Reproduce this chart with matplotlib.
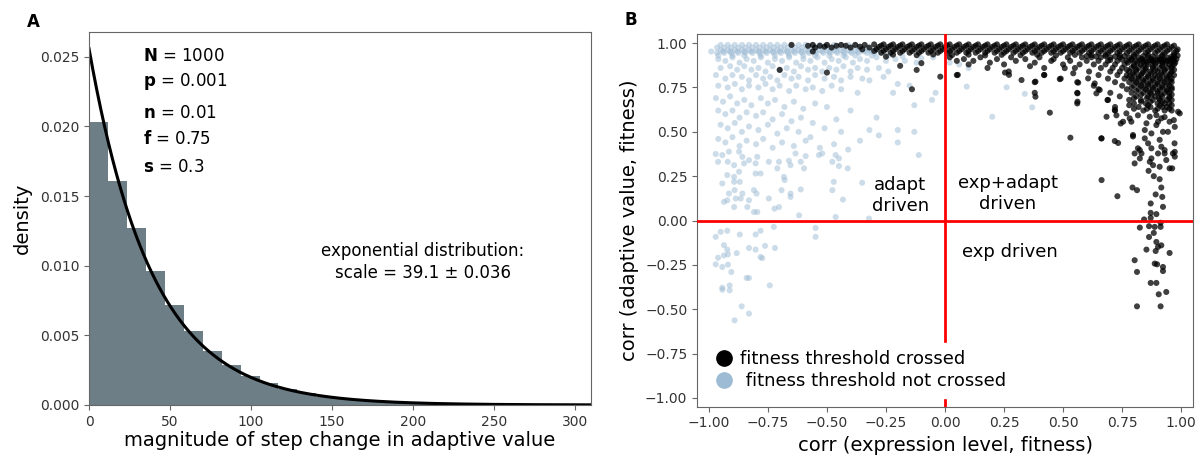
import matplotlib
matplotlib.use('Agg')
import matplotlib.pyplot as plt
from matplotlib.lines import Line2D
import numpy as np

# ---- panel A: histogram of step changes + exponential fit ----
bin_width = 11.7
hist_density = [0.0203, 0.0161, 0.0127, 0.0096, 0.0072, 0.0053, 0.0039, 0.00287,
                0.00208, 0.00160, 0.00113, 0.00084, 0.00060, 0.00044, 0.00033,
                0.00024, 0.00018, 0.00013, 0.00010, 0.00007, 0.00005, 0.00004,
                0.00003, 0.00002, 0.000015, 0.00001, 0.00001, 0.00001]
fit_scale = 39.1
params = [('N', '1000'), ('p', '0.001'), ('n', '0.01'), ('f', '0.75'), ('s', '0.3')]
param_y = [0.935, 0.866, 0.783, 0.712, 0.638]

# ---- panel B: corr(expression, fitness) vs corr(adaptive value, fitness) ----
# fitness threshold crossed (black)
crossed_band = [
    (-0.58, 0.985), (-0.56, 0.99), (-0.55, 0.975), (-0.53, 0.985), (-0.51, 0.98), (-0.50, 0.99),
    (-0.48, 0.975), (-0.46, 0.985), (-0.44, 0.99), (-0.42, 0.985), (-0.40, 0.975), (-0.38, 0.99),
    (-0.36, 0.98), (-0.35, 0.965), (-0.34, 0.99), (-0.32, 0.975), (-0.65, 0.99),
    (-0.30, 0.993), (-0.26, 0.993), (-0.22, 0.993), (-0.18, 0.993), (-0.14, 0.993), (-0.10, 0.993),
    (-0.06, 0.993), (-0.02, 0.993), (0.02, 0.993), (0.06, 0.993), (0.10, 0.993), (0.14, 0.993),
    (0.18, 0.993), (0.22, 0.993), (0.26, 0.993), (0.30, 0.993), (0.34, 0.993), (0.38, 0.993),
    (0.42, 0.993), (0.46, 0.993), (0.50, 0.993), (0.54, 0.993), (0.58, 0.993), (0.62, 0.993),
    (0.66, 0.993), (0.70, 0.993), (0.74, 0.993), (0.78, 0.993), (0.82, 0.993), (0.86, 0.993),
    (0.90, 0.993), (0.94, 0.993),
    (-0.27, 0.986), (-0.23, 0.986), (-0.19, 0.986), (-0.15, 0.986), (-0.11, 0.986), (-0.07, 0.986),
    (-0.03, 0.986), (0.01, 0.986), (0.05, 0.986), (0.09, 0.986), (0.13, 0.986), (0.17, 0.986),
    (0.21, 0.986), (0.25, 0.986), (0.29, 0.986), (0.33, 0.986), (0.37, 0.986), (0.41, 0.986),
    (0.45, 0.986), (0.49, 0.986), (0.53, 0.986), (0.57, 0.986), (0.61, 0.986), (0.65, 0.986),
    (0.69, 0.986), (0.73, 0.986), (0.77, 0.986), (0.81, 0.986), (0.85, 0.986), (0.89, 0.986),
    (0.93, 0.986), (0.97, 0.986),
    (-0.28, 0.978), (-0.24, 0.978), (-0.20, 0.978), (-0.16, 0.978), (-0.12, 0.978), (-0.08, 0.978),
    (-0.04, 0.978), (0.00, 0.978), (0.04, 0.978), (0.08, 0.978), (0.12, 0.978), (0.16, 0.978),
    (0.20, 0.978), (0.24, 0.978), (0.28, 0.978), (0.32, 0.978), (0.36, 0.978), (0.40, 0.978),
    (0.44, 0.978), (0.48, 0.978), (0.52, 0.978), (0.56, 0.978), (0.60, 0.978), (0.64, 0.978),
    (0.68, 0.978), (0.72, 0.978), (0.76, 0.978), (0.80, 0.978), (0.84, 0.978), (0.88, 0.978),
    (0.92, 0.978), (0.96, 0.978),
    (-0.29, 0.966), (-0.25, 0.966), (-0.21, 0.966), (-0.17, 0.966), (-0.13, 0.966), (-0.09, 0.966),
    (-0.05, 0.966), (-0.01, 0.966), (0.03, 0.966), (0.07, 0.966), (0.11, 0.966), (0.15, 0.966),
    (0.19, 0.966), (0.23, 0.966), (0.27, 0.966), (0.31, 0.966), (0.35, 0.966), (0.39, 0.966),
    (0.43, 0.966), (0.47, 0.966), (0.51, 0.966), (0.55, 0.966), (0.59, 0.966), (0.63, 0.966),
    (0.67, 0.966), (0.71, 0.966), (0.75, 0.966), (0.79, 0.966), (0.83, 0.966), (0.87, 0.966),
    (0.91, 0.966), (0.95, 0.966), (0.985, 0.965),
    (-0.30, 0.956), (-0.26, 0.956), (-0.22, 0.956), (-0.18, 0.956), (-0.14, 0.956), (-0.10, 0.956),
    (-0.06, 0.956), (-0.02, 0.956), (0.02, 0.956), (0.06, 0.956), (0.10, 0.956), (0.14, 0.956),
    (0.18, 0.956), (0.22, 0.956), (0.26, 0.956), (0.30, 0.956), (0.34, 0.956), (0.38, 0.956),
    (0.42, 0.956), (0.46, 0.956), (0.50, 0.956), (0.54, 0.956), (0.58, 0.956), (0.62, 0.956),
    (0.66, 0.956), (0.70, 0.956), (0.74, 0.956), (0.78, 0.956), (0.82, 0.956), (0.86, 0.956),
    (0.90, 0.956), (0.94, 0.956), (0.98, 0.956),
    (-0.27, 0.946), (-0.23, 0.946), (-0.19, 0.946), (-0.15, 0.946), (-0.11, 0.946), (-0.07, 0.946),
    (-0.03, 0.946), (0.01, 0.946), (0.05, 0.946), (0.09, 0.946), (0.13, 0.946), (0.17, 0.946),
    (0.21, 0.946), (0.25, 0.946), (0.29, 0.946), (0.33, 0.946), (0.37, 0.946), (0.41, 0.946),
    (0.45, 0.946), (0.49, 0.946), (0.53, 0.946), (0.57, 0.946), (0.61, 0.946), (0.65, 0.946),
    (0.69, 0.946), (0.73, 0.946), (0.77, 0.946), (0.81, 0.946), (0.85, 0.946), (0.89, 0.946),
    (0.93, 0.946), (0.97, 0.946),
    (-0.22, 0.935), (-0.12, 0.932), (-0.05, 0.936), (0.03, 0.933), (0.10, 0.935), (0.17, 0.931),
    (0.24, 0.934), (0.32, 0.932), (0.39, 0.935), (0.47, 0.931), (0.55, 0.934), (0.62, 0.933),
    (0.68, 0.935), (0.74, 0.932), (0.80, 0.935), (0.86, 0.933), (0.92, 0.934), (0.97, 0.932),
]
crossed_block = [
    (0.02, 0.92), (0.08, 0.91), (0.15, 0.92), (0.22, 0.91), (0.28, 0.92), (0.34, 0.91), (0.40, 0.92),
    (0.46, 0.91), (0.52, 0.92), (0.58, 0.92), (0.62, 0.92), (0.66, 0.92), (0.70, 0.92), (0.74, 0.92),
    (0.78, 0.92), (0.82, 0.92), (0.86, 0.92), (0.90, 0.92), (0.94, 0.92), (0.97, 0.92),
    (0.05, 0.90), (0.12, 0.90), (0.19, 0.89), (0.30, 0.90), (0.38, 0.89), (0.45, 0.90), (0.53, 0.90),
    (0.60, 0.90), (0.65, 0.90), (0.69, 0.90), (0.73, 0.90), (0.77, 0.90), (0.81, 0.90), (0.85, 0.90),
    (0.88, 0.90), (0.91, 0.90), (0.94, 0.90), (0.97, 0.90),
    (0.10, 0.88), (0.25, 0.88), (0.36, 0.87), (0.50, 0.88), (0.57, 0.88), (0.63, 0.88), (0.68, 0.88),
    (0.72, 0.88), (0.76, 0.88), (0.80, 0.88), (0.83, 0.88), (0.86, 0.88), (0.89, 0.88), (0.92, 0.88),
    (0.95, 0.88), (0.97, 0.88),
    (0.18, 0.86), (0.42, 0.86), (0.55, 0.86), (0.66, 0.86), (0.71, 0.86), (0.75, 0.86), (0.79, 0.86),
    (0.82, 0.86), (0.85, 0.86), (0.88, 0.86), (0.91, 0.86), (0.94, 0.86), (0.96, 0.86),
    (0.27, 0.84), (0.61, 0.84), (0.70, 0.84), (0.74, 0.84), (0.78, 0.84), (0.81, 0.84), (0.84, 0.84),
    (0.87, 0.84), (0.90, 0.84), (0.93, 0.84), (0.96, 0.84),
    (0.05, 0.82), (0.42, 0.82), (0.65, 0.82), (0.73, 0.82), (0.77, 0.82), (0.80, 0.82), (0.83, 0.82),
    (0.86, 0.82), (0.89, 0.82), (0.92, 0.82), (0.95, 0.82), (0.97, 0.82),
    (0.49, 0.80), (0.69, 0.80), (0.76, 0.80), (0.79, 0.80), (0.82, 0.80), (0.85, 0.80), (0.88, 0.80),
    (0.91, 0.80), (0.94, 0.80), (0.96, 0.80),
    (0.38, 0.78), (0.56, 0.78), (0.72, 0.78), (0.78, 0.78), (0.81, 0.78), (0.84, 0.78), (0.87, 0.78),
    (0.90, 0.78), (0.93, 0.78), (0.96, 0.78),
    (0.63, 0.76), (0.75, 0.76), (0.80, 0.76), (0.83, 0.76), (0.86, 0.76), (0.89, 0.76), (0.92, 0.76),
    (0.95, 0.76),
    (0.65, 0.74), (0.77, 0.74), (0.82, 0.74), (0.85, 0.74), (0.88, 0.74), (0.91, 0.74), (0.94, 0.74),
    (0.96, 0.74),
    (0.38, 0.72), (0.56, 0.72), (0.70, 0.72), (0.79, 0.72), (0.84, 0.72), (0.87, 0.72), (0.90, 0.72),
    (0.93, 0.72), (0.95, 0.72),
    (0.74, 0.70), (0.81, 0.70), (0.86, 0.70), (0.89, 0.70), (0.92, 0.70), (0.95, 0.70),
    (0.69, 0.68), (0.78, 0.68), (0.83, 0.68), (0.88, 0.68), (0.91, 0.68), (0.94, 0.68), (0.96, 0.68),
    (0.56, 0.66), (0.80, 0.66), (0.85, 0.66), (0.90, 0.66), (0.93, 0.66), (0.95, 0.66),
    (0.72, 0.64), (0.82, 0.64), (0.87, 0.64), (0.92, 0.64), (0.94, 0.64),
    (0.72, 0.62), (0.84, 0.62), (0.89, 0.62), (0.93, 0.62), (0.96, 0.62),
]
crossed_block_top = [
    (0.60, 0.927), (0.64, 0.925), (0.68, 0.927), (0.72, 0.925), (0.76, 0.927), (0.80, 0.925),
    (0.84, 0.927), (0.88, 0.925), (0.92, 0.927), (0.96, 0.925), (0.985, 0.93),
    (0.70, 0.905), (0.75, 0.907), (0.79, 0.905), (0.83, 0.907), (0.87, 0.905), (0.90, 0.907),
    (0.93, 0.905), (0.96, 0.907), (0.98, 0.91),
    (0.84, 0.895), (0.88, 0.897), (0.92, 0.895), (0.955, 0.897),
]
crossed_block_core = [
    (0.79, 0.91), (0.835, 0.91), (0.875, 0.91), (0.915, 0.91), (0.955, 0.91),
    (0.775, 0.89), (0.815, 0.89), (0.855, 0.89), (0.895, 0.89), (0.935, 0.89), (0.975, 0.89),
    (0.80, 0.87), (0.84, 0.87), (0.88, 0.87), (0.92, 0.87), (0.96, 0.87),
    (0.77, 0.85), (0.81, 0.85), (0.85, 0.85), (0.89, 0.85), (0.93, 0.85), (0.97, 0.85),
    (0.795, 0.83), (0.835, 0.83), (0.875, 0.83), (0.915, 0.83), (0.955, 0.83),
    (0.78, 0.81), (0.82, 0.81), (0.86, 0.81), (0.90, 0.81), (0.94, 0.81),
    (0.80, 0.79), (0.84, 0.79), (0.88, 0.79), (0.92, 0.79), (0.955, 0.79),
    (0.82, 0.77), (0.86, 0.77), (0.90, 0.77), (0.94, 0.77),
    (0.79, 0.75), (0.84, 0.75), (0.88, 0.75), (0.92, 0.75), (0.96, 0.75),
    (0.81, 0.73), (0.86, 0.73), (0.90, 0.73), (0.94, 0.73),
    (0.83, 0.71), (0.875, 0.71), (0.915, 0.71), (0.96, 0.71),
    (0.80, 0.69), (0.855, 0.69), (0.905, 0.69), (0.95, 0.69),
    (0.83, 0.67), (0.87, 0.67), (0.92, 0.67),
    (0.78, 0.65), (0.86, 0.65), (0.91, 0.65), (0.96, 0.65),
    (0.80, 0.63), (0.855, 0.63), (0.90, 0.63), (0.95, 0.63),
]
crossed_scatter = [
    (-0.70, 0.849), (-0.50, 0.834), (-0.56, 0.953), (-0.19, 0.872), (-0.14, 0.740), (-0.10, 0.887),
    (-0.12, 0.849), (-0.02, 0.811), (-0.25, 0.924), (0.054, 0.821), (0.383, 0.698), (0.444, 0.608),
    (0.383, 0.783), (0.324, 0.792), (0.254, 0.834), (0.271, 0.821), (0.42, 0.821), (0.486, 0.797),
    (0.507, 0.859), (0.543, 0.830), (0.564, 0.777), (0.561, 0.717), (0.561, 0.670), (0.606, 0.801),
    (0.634, 0.773), (0.641, 0.717), (0.655, 0.736), (0.688, 0.679), (0.684, 0.585), (0.719, 0.623),
    (0.744, 0.547),
    (0.663, 0.463), (0.719, 0.448), (0.733, 0.437), (0.803, 0.378), (0.832, 0.378),
    (0.825, 0.350), (0.803, 0.322), (0.867, 0.331), (0.881, 0.312), (0.909, 0.303), (0.862, 0.280),
    (0.884, 0.250), (0.951, 0.294), (0.962, 0.294), (0.937, 0.341), (0.930, 0.378), (0.965, 0.378),
    (0.916, 0.416), (0.860, 0.435), (0.825, 0.397), (0.846, 0.463), (0.796, 0.482), (0.874, 0.491),
    (0.944, 0.500), (0.972, 0.435), (0.909, 0.455), (0.895, 0.538), (0.951, 0.557), (0.969, 0.566),
    (0.782, 0.576), (0.853, 0.548), (0.768, 0.604), (0.817, 0.593), (0.895, 0.594), (0.930, 0.583),
    (0.994, 0.604), (0.726, 0.593), (0.867, 0.585), (0.916, 0.576), (0.754, 0.557),
    (0.531, 0.467), (0.662, 0.463), (0.789, 0.557), (0.846, 0.510), (0.902, 0.557), (0.923, 0.500),
    (0.973, 0.528), (0.987, 0.613), (0.796, 0.474), (0.817, 0.407), (0.874, 0.407), (0.930, 0.397),
    (0.973, 0.387), (0.902, 0.378), (0.973, 0.360), (0.874, 0.350),
    (0.663, 0.228), (0.794, 0.186), (0.813, 0.171), (0.730, 0.137), (0.909, 0.233), (0.916, 0.186),
    (0.892, 0.147), (0.920, 0.133), (0.871, 0.096), (0.923, 0.077), (0.871, 0.043), (0.895, 0.036),
    (0.843, 0.006), (0.871, 0.015), (0.825, -0.040), (0.864, -0.032), (0.888, -0.036), (0.913, -0.013),
    (0.913, -0.036), (0.884, -0.070), (0.864, -0.093), (0.895, -0.121), (0.916, -0.140), (0.902, -0.149),
    (0.853, -0.164), (0.892, -0.172), (0.951, -0.183), (0.803, -0.224), (0.888, -0.243), (0.898, -0.247),
    (0.923, -0.262), (0.923, -0.285), (0.813, -0.290), (0.871, -0.352), (0.895, -0.352), (0.905, -0.416),
    (0.937, -0.403), (0.813, -0.484), (0.913, -0.484),
]

# fitness threshold not crossed (light blue)
notcrossed_band = [
    (-0.99, 0.953),
    (-0.95, 0.99), (-0.92, 0.99), (-0.89, 0.99), (-0.86, 0.99), (-0.83, 0.99), (-0.80, 0.99),
    (-0.77, 0.99), (-0.74, 0.99), (-0.71, 0.99), (-0.68, 0.99), (-0.65, 0.99), (-0.62, 0.99),
    (-0.59, 0.99), (-0.56, 0.99), (-0.53, 0.99), (-0.50, 0.99), (-0.47, 0.99), (-0.44, 0.99),
    (-0.41, 0.99), (-0.38, 0.99),
    (-0.965, 0.975), (-0.935, 0.975), (-0.905, 0.975), (-0.875, 0.975), (-0.845, 0.975),
    (-0.815, 0.975), (-0.785, 0.975), (-0.755, 0.975), (-0.725, 0.975), (-0.695, 0.975),
    (-0.665, 0.975), (-0.635, 0.975), (-0.605, 0.975), (-0.575, 0.975), (-0.545, 0.975),
    (-0.515, 0.975), (-0.485, 0.975), (-0.455, 0.975), (-0.425, 0.975), (-0.395, 0.975),
    (-0.365, 0.975), (-0.33, 0.975),
    (-0.95, 0.96), (-0.92, 0.96), (-0.89, 0.96), (-0.86, 0.96), (-0.83, 0.96), (-0.80, 0.96),
    (-0.77, 0.96), (-0.74, 0.96), (-0.71, 0.96), (-0.68, 0.96), (-0.65, 0.96), (-0.62, 0.96),
    (-0.59, 0.96), (-0.56, 0.96), (-0.53, 0.96), (-0.50, 0.96), (-0.47, 0.96), (-0.44, 0.96),
    (-0.41, 0.96), (-0.38, 0.96), (-0.35, 0.96), (-0.32, 0.96), (-0.29, 0.96),
    (-0.94, 0.953), (-0.91, 0.953), (-0.88, 0.953), (-0.85, 0.953), (-0.82, 0.953), (-0.79, 0.953),
    (-0.76, 0.953), (-0.73, 0.953), (-0.70, 0.953), (-0.67, 0.953), (-0.64, 0.953), (-0.61, 0.953),
    (-0.58, 0.953), (-0.55, 0.953), (-0.52, 0.953), (-0.49, 0.953), (-0.46, 0.953), (-0.43, 0.953),
    (-0.40, 0.953), (-0.37, 0.953), (-0.34, 0.953), (-0.31, 0.953),
    (-0.965, 0.945), (-0.935, 0.945), (-0.905, 0.945), (-0.875, 0.945), (-0.845, 0.945),
    (-0.815, 0.945), (-0.785, 0.945), (-0.755, 0.945), (-0.725, 0.945), (-0.695, 0.945),
    (-0.665, 0.945), (-0.635, 0.945), (-0.605, 0.945), (-0.575, 0.945), (-0.545, 0.945),
    (-0.515, 0.945), (-0.485, 0.945), (-0.455, 0.945), (-0.425, 0.945), (-0.395, 0.945),
    (-0.365, 0.945), (-0.33, 0.945), (-0.30, 0.945), (-0.27, 0.945),
    (-0.96, 0.93), (-0.90, 0.93), (-0.85, 0.93), (-0.78, 0.93), (-0.72, 0.93), (-0.66, 0.93),
    (-0.60, 0.93), (-0.55, 0.93), (-0.49, 0.93), (-0.43, 0.93), (-0.38, 0.93), (-0.31, 0.93),
    (-0.24, 0.93), (-0.18, 0.925), (-0.10, 0.915), (-0.05, 0.92),
]
notcrossed_cloud = [
    (-0.96, 0.91), (-0.93, 0.90), (-0.90, 0.92), (-0.87, 0.89), (-0.84, 0.91), (-0.81, 0.90),
    (-0.78, 0.92), (-0.75, 0.89), (-0.72, 0.91), (-0.69, 0.90), (-0.66, 0.92), (-0.63, 0.89),
    (-0.60, 0.91), (-0.57, 0.90), (-0.54, 0.92), (-0.51, 0.89), (-0.48, 0.91), (-0.45, 0.90),
    (-0.42, 0.92), (-0.39, 0.89), (-0.36, 0.91), (-0.33, 0.90), (-0.29, 0.92), (-0.25, 0.90),
    (-0.21, 0.91), (-0.17, 0.90), (-0.12, 0.89),
    (-0.95, 0.86), (-0.91, 0.87), (-0.88, 0.85), (-0.85, 0.87), (-0.82, 0.85), (-0.79, 0.86),
    (-0.76, 0.84), (-0.73, 0.87), (-0.70, 0.85), (-0.67, 0.86), (-0.64, 0.84), (-0.61, 0.87),
    (-0.58, 0.85), (-0.55, 0.86), (-0.52, 0.84), (-0.49, 0.86), (-0.46, 0.85), (-0.43, 0.87),
    (-0.40, 0.84), (-0.37, 0.86), (-0.33, 0.85), (-0.28, 0.86), (-0.24, 0.84),
    (-0.97, 0.82), (-0.93, 0.80), (-0.90, 0.82), (-0.86, 0.81), (-0.83, 0.79), (-0.80, 0.82),
    (-0.77, 0.80), (-0.74, 0.81), (-0.71, 0.79), (-0.68, 0.82), (-0.65, 0.80), (-0.62, 0.81),
    (-0.58, 0.79), (-0.55, 0.82), (-0.51, 0.80), (-0.47, 0.81), (-0.44, 0.79), (-0.40, 0.81),
    (-0.35, 0.80), (-0.32, 0.79), (-0.26, 0.81), (-0.20, 0.77), (-0.15, 0.76),
    (-0.96, 0.76), (-0.92, 0.75), (-0.89, 0.77), (-0.86, 0.74), (-0.83, 0.76), (-0.79, 0.75),
    (-0.76, 0.77), (-0.73, 0.74), (-0.70, 0.76), (-0.66, 0.73), (-0.63, 0.76), (-0.59, 0.74),
    (-0.56, 0.75), (-0.52, 0.73), (-0.48, 0.76), (-0.44, 0.74), (-0.37, 0.72), (-0.22, 0.72),
    (-0.04, 0.72), (-0.055, 0.68), (-0.13, 0.65), (0.02, 0.89), (0.06, 0.88), (0.10, 0.86),
    (0.092, 0.755), (0.20, 0.585), (0.261, 0.751), (0.338, 0.714), (0.369, 0.638),
    (-0.97, 0.69), (-0.94, 0.67), (-0.91, 0.70), (-0.88, 0.66), (-0.85, 0.68), (-0.82, 0.65),
    (-0.78, 0.69), (-0.75, 0.66), (-0.72, 0.68), (-0.68, 0.64), (-0.64, 0.67), (-0.60, 0.63),
    (-0.55, 0.66), (-0.50, 0.64), (-0.40, 0.62), (-0.29, 0.58),
    (-0.96, 0.62), (-0.93, 0.60), (-0.90, 0.62), (-0.87, 0.58), (-0.84, 0.61), (-0.80, 0.59),
    (-0.77, 0.61), (-0.73, 0.57), (-0.69, 0.60), (-0.65, 0.56), (-0.61, 0.58), (-0.56, 0.55),
    (-0.51, 0.52), (-0.46, 0.57),
    (-0.95, 0.54), (-0.92, 0.52), (-0.89, 0.55), (-0.86, 0.50), (-0.83, 0.53), (-0.79, 0.51),
    (-0.75, 0.54), (-0.71, 0.49), (-0.67, 0.52), (-0.62, 0.50), (-0.57, 0.47), (-0.44, 0.50),
    (-0.32, 0.51), (-0.28, 0.48), (-0.36, 0.45), (-0.20, 0.51), (-0.13, 0.50), (-0.20, 0.44),
    (-0.96, 0.46), (-0.93, 0.44), (-0.90, 0.47), (-0.87, 0.42), (-0.84, 0.45), (-0.80, 0.43),
    (-0.77, 0.46), (-0.73, 0.41), (-0.69, 0.44), (-0.64, 0.42), (-0.59, 0.45), (-0.53, 0.41),
    (-0.47, 0.43), (-0.41, 0.40),
]
notcrossed_low = [
    (-0.971, 0.375), (-0.943, 0.369), (-0.915, 0.388), (-0.872, 0.388), (-0.858, 0.359),
    (-0.830, 0.340), (-0.802, 0.322), (-0.961, 0.331), (-0.920, 0.331), (-0.893, 0.312),
    (-0.851, 0.322), (-0.795, 0.359), (-0.746, 0.331), (-0.703, 0.331), (-0.661, 0.337),
    (-0.633, 0.378), (-0.590, 0.363), (-0.611, 0.331), (-0.710, 0.294), (-0.654, 0.312),
    (-0.597, 0.294), (-0.534, 0.369), (-0.477, 0.331), (-0.463, 0.369), (-0.449, 0.350),
    (-0.449, 0.307), (-0.412, 0.294), (-0.351, 0.213), (-0.471, 0.218), (-0.477, 0.171),
    (-0.432, 0.118), (-0.520, 0.378), (-0.111, 0.369), (-0.922, 0.256), (-0.893, 0.246),
    (-0.872, 0.275), (-0.869, 0.218), (-0.893, 0.218), (-0.943, 0.209), (-0.891, 0.171),
    (-0.915, 0.152), (-0.922, 0.114), (-0.936, 0.105), (-0.886, 0.124), (-0.858, 0.152),
    (-0.865, 0.124), (-0.830, 0.114), (-0.837, 0.076), (-0.809, 0.048), (-0.795, 0.048),
    (-0.893, 0.076), (-0.809, 0.171), (-0.798, 0.152), (-0.802, 0.265), (-0.781, 0.265),
    (-0.746, 0.124), (-0.722, 0.067), (-0.703, 0.076), (-0.692, 0.171), (-0.679, 0.228),
    (-0.682, 0.246), (-0.654, 0.152), (-0.654, 0.133), (-0.611, 0.175), (-0.618, 0.029),
    (-0.463, 0.020), (-0.322, 0.011),
    (-0.971, -0.092), (-0.950, -0.064), (-0.922, -0.058), (-0.869, -0.079), (-0.802, -0.079),
    (-0.781, -0.058), (-0.725, -0.036), (-0.548, -0.042), (-0.548, -0.092), (-0.936, -0.139),
    (-0.922, -0.164), (-0.830, -0.155), (-0.802, -0.164), (-0.762, -0.143), (-0.720, -0.155),
    (-0.961, -0.210), (-0.936, -0.197), (-0.919, -0.191), (-0.882, -0.184), (-0.971, -0.247),
    (-0.943, -0.262), (-0.919, -0.249), (-0.781, -0.206), (-0.774, -0.212), (-0.905, -0.290),
    (-0.840, -0.324), (-0.830, -0.324), (-0.943, -0.379), (-0.912, -0.366), (-0.912, -0.394),
    (-0.943, -0.390), (-0.742, -0.366), (-0.861, -0.484), (-0.830, -0.525), (-0.891, -0.563),
]

quadrant_labels = [('adapt\ndriven', -0.19, 0.14), ('exp+adapt\ndriven', 0.265, 0.15),
                   ('exp driven', 0.275, -0.18)]
legend_labels = ['fitness threshold crossed', ' fitness threshold not crossed']

bar_color = '#6d7e87'
blue = '#9dbbd4'
spine_col = '#666666'

fig = plt.figure(figsize=(11.95, 4.57), dpi=100)
axA = fig.add_axes([0.0745, 0.1138, 0.4201, 0.8168])
axB = fig.add_axes([0.5833, 0.1100, 0.4150, 0.8150])

# panel A
edges = np.arange(len(hist_density) + 1) * bin_width
axA.bar(edges[:-1], hist_density, width=bin_width, align='edge', color=bar_color,
        edgecolor='none')
xs = np.linspace(0, 320, 400)
axA.plot(xs, np.exp(-xs / fit_scale) / fit_scale, color='black', lw=2.2)
axA.set_xlim(0, 310)
axA.set_ylim(0, 0.0268)
axA.set_xticks([0, 50, 100, 150, 200, 250, 300])
axA.set_yticks([0, 0.005, 0.010, 0.015, 0.020, 0.025])
axA.set_yticklabels(['0.000', '0.005', '0.010', '0.015', '0.020', '0.025'])
axA.set_xlabel('magnitude of step change in adaptive value', fontsize=14, labelpad=2)
axA.set_ylabel('density', fontsize=14, labelpad=6)
for (name, val), yy in zip(params, param_y):
    axA.text(0.108, yy, r'$\mathbf{%s}$ = %s' % (name, val), transform=axA.transAxes,
             fontsize=12, va='center', ha='left')
axA.text(0.665, 0.384, 'exponential distribution:\nscale = 39.1 \u00b1 0.036',
         transform=axA.transAxes, fontsize=12, ha='center', va='center', linespacing=1.3)

# panel B
def unzip(pts):
    return [p[0] for p in pts], [p[1] for p in pts]

nx, ny = unzip(notcrossed_band + notcrossed_cloud + notcrossed_low)
cx, cy = unzip(crossed_band + crossed_block + crossed_block_top + crossed_block_core
               + crossed_scatter)
axB.scatter(nx, ny, s=19, color=blue, alpha=0.5, edgecolors='none', zorder=2)
axB.scatter(cx, cy, s=19, color='black', alpha=0.75, edgecolors='none', zorder=3)
axB.axhline(0, color='red', lw=2, zorder=4)
axB.axvline(0, color='red', lw=2, zorder=4)
for txt, x, y in quadrant_labels:
    axB.text(x, y, txt, fontsize=13, ha='center', va='center', zorder=5)
axB.set_xlim(-1.05, 1.05)
axB.set_ylim(-1.05, 1.05)
ticks = [-1, -0.75, -0.5, -0.25, 0, 0.25, 0.5, 0.75, 1]
axB.set_xticks(ticks)
axB.set_yticks(ticks)
axB.set_xlabel('corr (expression level, fitness)', fontsize=14)
axB.set_ylabel('corr (adaptive value, fitness)', fontsize=14)
handles = [Line2D([], [], marker='o', ls='', color='black', markersize=11),
           Line2D([], [], marker='o', ls='', color=blue, markersize=11)]
leg = axB.legend(handles, legend_labels, loc='lower left', fontsize=13, frameon=True,
                 framealpha=1, edgecolor='white', fancybox=False, handlelength=1.2,
                 handletextpad=0.3, labelspacing=0.25, borderaxespad=0.5)
leg.set_zorder(6)

for ax in (axA, axB):
    for sp in ax.spines.values():
        sp.set_color(spine_col)
    ax.tick_params(colors=spine_col, labelcolor='#333333', labelsize=10)

fig.text(0.0276, 0.952, 'A', fontsize=12, fontweight='bold', ha='center', va='center')
fig.text(0.528, 0.956, 'B', fontsize=12, fontweight='bold', ha='center', va='center')

fig.savefig('out.png', dpi=100)
